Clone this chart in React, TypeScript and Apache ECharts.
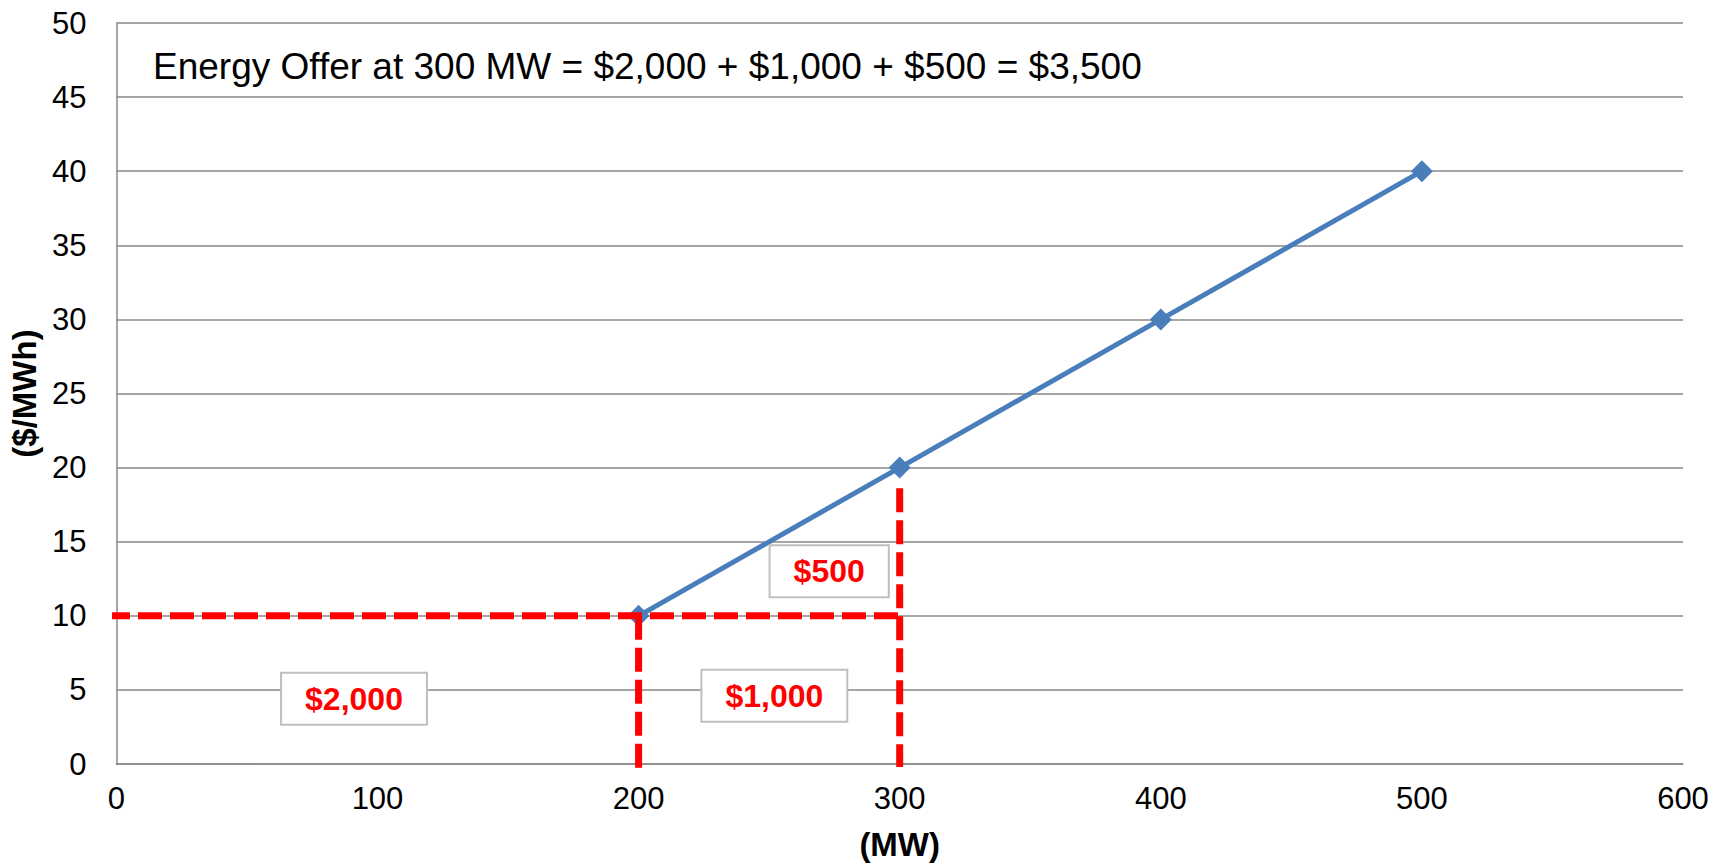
import React, { useEffect, useRef } from "react";
import * as echarts from "echarts";

const mwValues = [200, 300, 400, 500];
const priceValues = [10, 20, 30, 40];

const xMin = 0;
const xMax = 600;
const xStep = 100;
const yMin = 0;
const yMax = 50;
const yStep = 5;

const headline = "Energy Offer at 300 MW = $2,000 + $1,000 + $500 = $3,500";
const xTitle = "(MW)";
const yTitle = "($/MWh)";

const costLabels = ["$2,000", "$1,000", "$500"];
const costLabelMW = [91, 252, 273];
const costLabelPrice = [4.4, 4.6, 13.0];

const FONT = "'Liberation Sans', Arial, Helvetica, sans-serif";
const GRAY = "#888888";
const BLUE = "#4a7ebb";
const RED = "#ff0000";

export default function App() {
  const ref = useRef<HTMLDivElement>(null);

  useEffect(() => {
    document.body.style.margin = "0";
    if (!ref.current) return;
    const chart = echarts.init(ref.current, undefined, { renderer: "svg" });

    const p1x = mwValues[0];
    const p1y = priceValues[0];
    const p2x = mwValues[1];
    const p2y = priceValues[1];

    const dashStyle = {
      color: RED,
      width: 7,
      type: [24, 8] as number[],
      cap: "butt" as const,
    };

    const dashed = (data: number[][]) => ({
      type: "line",
      data,
      symbol: "none",
      clip: false,
      silent: true,
      z: 5,
      lineStyle: dashStyle,
    });

    chart.setOption({
      animation: false,
      textStyle: { fontFamily: FONT },
      title: {
        text: headline,
        left: 148,
        top: 43,
        textStyle: {
          fontFamily: FONT,
          fontSize: 37,
          fontWeight: "normal",
          color: "#000",
        },
      },
      grid: { left: 115, right: 32, top: 23, bottom: 101, containLabel: false },
      xAxis: {
        type: "value",
        min: xMin,
        max: xMax,
        interval: xStep,
        name: xTitle,
        nameLocation: "middle",
        nameGap: 64,
        nameTextStyle: {
          fontFamily: FONT,
          fontSize: 33,
          fontWeight: "bold",
          color: "#000",
        },
        axisLine: { show: true, lineStyle: { color: GRAY, width: 1.5 } },
        axisTick: { show: false },
        splitLine: { show: false },
        axisLabel: {
          fontFamily: FONT,
          fontSize: 31,
          color: "#000",
          margin: 19,
        },
      },
      yAxis: {
        type: "value",
        min: yMin,
        max: yMax,
        interval: yStep,
        name: yTitle,
        nameLocation: "middle",
        nameGap: 69,
        nameRotate: 90,
        nameTextStyle: {
          fontFamily: FONT,
          fontSize: 33,
          fontWeight: "bold",
          color: "#000",
        },
        axisLine: { show: true, lineStyle: { color: GRAY, width: 1.5 } },
        axisTick: { show: false },
        splitLine: { show: true, lineStyle: { color: GRAY, width: 1.5 } },
        axisLabel: {
          fontFamily: FONT,
          fontSize: 31,
          color: "#000",
          margin: 30,
        },
      },
      series: [
        {
          type: "line",
          data: mwValues.map((x, i) => [x, priceValues[i]]),
          symbol: "diamond",
          symbolSize: 22,
          z: 3,
          lineStyle: { color: BLUE, width: 5 },
          itemStyle: { color: BLUE },
        },
        dashed([
          [xMin - 4, p1y],
          [p2x, p1y],
        ]),
        dashed([
          [p1x, p1y],
          [p1x, yMin - 0.35],
        ]),
        dashed([
          [p2x, p2y - 1.4],
          [p2x, yMin - 0.2],
        ]),
        {
          type: "scatter",
          symbolSize: 1,
          z: 6,
          itemStyle: { color: "transparent", opacity: 1 },
          data: costLabels.map((t, i) => ({
            value: [costLabelMW[i], costLabelPrice[i]],
            name: t,
          })),
          label: {
            show: true,
            position: "inside",
            formatter: (p: any) => p.name,
            fontFamily: FONT,
            fontSize: 32,
            fontWeight: "bold",
            color: RED,
            opacity: 1,
            backgroundColor: "#ffffff",
            borderColor: "#bfbfbf",
            borderWidth: 2,
            padding: [12, 23, 6, 23],
          },
        },
      ],
    });

    return () => chart.dispose();
  }, []);

  return <div ref={ref} style={{ width: 1715, height: 866 }} />;
}
